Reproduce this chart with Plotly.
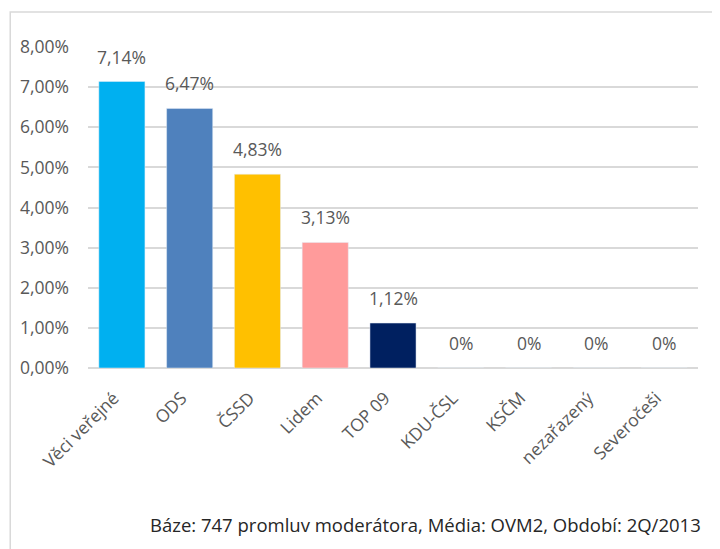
import plotly.graph_objects as go

categories = ["Věci veřejné", "ODS", "ČSSD", "Lidem", "TOP 09",
              "KDU-ČSL", "KSČM", "nezařazený", "Severočeši"]
shares_pct = [7.14, 6.47, 4.83, 3.13, 1.12, 0, 0, 0, 0]
bar_colors = ["#00B0F0", "#4F81BD", "#FFC000", "#FF9B9B", "#002060",
              "#A5A5A5", "#A5A5A5", "#A5A5A5", "#A5A5A5"]
y_ticks = [0, 1, 2, 3, 4, 5, 6, 7, 8]
footnote = "Báze: 747 promluv moderátora, Média: OVM2, Období: 2Q/2013"

FONT = "Open Sans"
GREY = "#595959"


def label_text(value: float) -> str:
    if value == 0:
        return "0%"
    return f"{value:.2f}".replace(".", ",") + "%"


fig = go.Figure()
fig.add_trace(
    go.Bar(
        x=categories,
        y=shares_pct,
        marker_color=bar_colors,
        showlegend=False,
    )
)
for cat, val in zip(categories, shares_pct):
    fig.add_annotation(
        x=cat,
        y=val,
        text=label_text(val),
        showarrow=False,
        yanchor="bottom",
        yshift=11,
        font={"family": FONT, "size": 17.5, "color": GREY},
    )

# chart frame (left and top edges visible)
fig.add_shape(
    type="rect", xref="paper", yref="paper",
    x0=-0.1275, x1=1.08, y0=-0.7, y1=1.109,
    line={"color": "#D9D9D9", "width": 1.5},
    layer="below",
)
fig.add_annotation(
    xref="paper", yref="paper",
    x=1.008, y=-0.489,
    xanchor="right", yanchor="middle",
    text=footnote, showarrow=False,
    font={"family": FONT, "size": 18.5, "color": "#262626"},
)

fig.update_layout(
    width=720,
    height=549,
    margin={"l": 78, "r": 30, "t": 39, "b": 189},
    plot_bgcolor="white",
    paper_bgcolor="white",
    bargap=0.32,
    separators=", ",
    font={"family": FONT, "size": 17.5, "color": GREY},
)
fig.update_xaxes(
    tickangle=-45,
    showline=False,
    showgrid=False,
    ticks="outside",
    ticklen=12,
    tickcolor="rgba(0,0,0,0)",
    ticklabelshift=-8,
    tickfont={"family": FONT, "size": 17.5, "color": GREY},
)
fig.update_yaxes(
    range=[0, 8],
    tickvals=y_ticks,
    ticktext=[f"{v},00%" for v in y_ticks],
    showgrid=True,
    gridcolor="#D9D9D9",
    gridwidth=1.5,
    zeroline=True,
    zerolinecolor="#D9D9D9",
    zerolinewidth=1.5,
    ticklabelstandoff=18,
    tickfont={"family": FONT, "size": 17.5, "color": GREY},
)

fig.write_html("out.html")
